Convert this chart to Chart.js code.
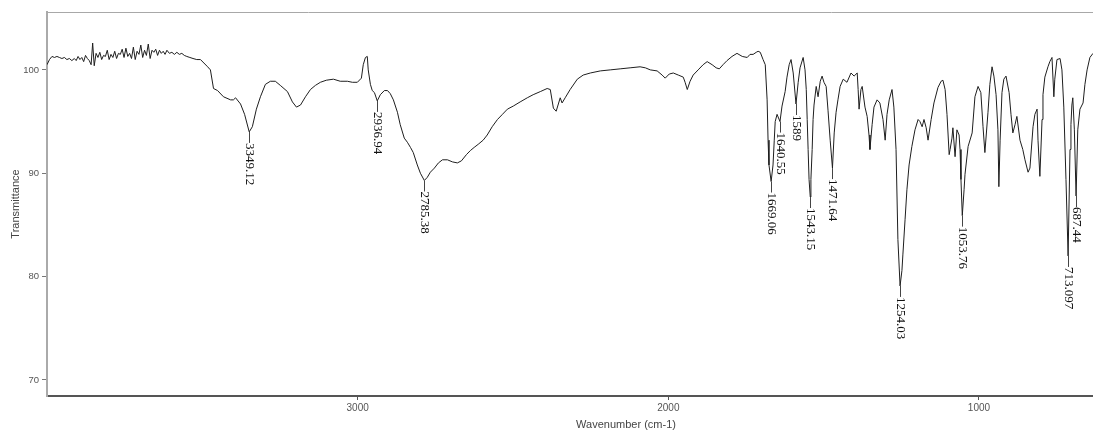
<!DOCTYPE html>
<html>
<head>
<meta charset="utf-8">
<title>FTIR spectrum</title>
<script src="https://cdn.jsdelivr.net/npm/chart.js@4.4.1/dist/chart.umd.min.js"></script>
<style>
  html, body { margin: 0; padding: 0; background: #fff; overflow: hidden; }
  canvas { display: block; }
</style>
</head>
<body>
<canvas id="spectrum" width="1093" height="432"></canvas>
<script>
// Wavenumber (cm-1), descending, and transmittance (%) of the IR spectrum
const wavenumbers = [
  4000, 3992, 3984, 3976, 3968, 3960, 3952, 3944, 3936, 3928, 3920, 3912, 3906, 3900, 3894, 3888,
  3882, 3876, 3870, 3864, 3858, 3853, 3848, 3842, 3836, 3830, 3824, 3818, 3812, 3806, 3800, 3794,
  3788, 3782, 3776, 3770, 3764, 3758, 3752, 3746, 3740, 3734, 3728, 3722, 3716, 3710, 3704, 3698,
  3692, 3686, 3680, 3674, 3668, 3662, 3656, 3650, 3644, 3638, 3632, 3626, 3620, 3614, 3606, 3598,
  3590, 3582, 3574, 3566, 3558, 3550, 3540, 3530, 3518,
  3506, 3483, 3474, 3464, 3451, 3432, 3409, 3400, 3393, 3377, 3364, 3349.12, 3339, 3326, 3313, 3297,
  3281, 3265, 3249, 3226, 3210, 3197, 3184, 3168, 3152, 3136, 3120, 3101, 3078, 3056, 3033, 3017,
  3001, 2988, 2982, 2975, 2969, 2966, 2959, 2953, 2946, 2936.94, 2927, 2914, 2904, 2895, 2885, 2872,
  2863, 2850, 2840, 2830, 2821, 2808, 2798, 2785.38, 2776, 2766, 2753, 2740, 2727, 2711, 2695, 2679,
  2666, 2650, 2637, 2625, 2612, 2596, 2583, 2567, 2550, 2534, 2518, 2499, 2477, 2454, 2435, 2412,
  2390, 2380, 2370, 2361, 2354, 2348, 2342, 2332, 2316, 2293, 2274, 2251, 2219, 2187, 2155, 2123,
  2091, 2074, 2058, 2036, 2020, 2010, 1997, 1984, 1968, 1952, 1946, 1939, 1930, 1920, 1904, 1888,
  1875, 1859, 1846, 1836, 1824, 1811, 1795, 1779, 1762, 1746, 1737, 1727, 1717, 1711, 1704, 1695,
  1688, 1682, 1679, 1676, 1669.06, 1663, 1659, 1656, 1650, 1640.55, 1634, 1624, 1618, 1611, 1605, 1598,
  1589, 1582, 1576, 1566, 1560, 1556, 1553, 1550, 1547, 1543.15, 1541, 1537, 1534, 1531, 1524, 1518,
  1511, 1505, 1499, 1492, 1486, 1479, 1471.64, 1466, 1460, 1454, 1447, 1437, 1425, 1412, 1402, 1392,
  1389, 1386, 1380, 1376, 1367, 1360, 1354, 1351, 1344, 1338, 1328, 1319, 1309, 1302, 1296, 1289,
  1280, 1274, 1267, 1261, 1254.03, 1248, 1245, 1238, 1232, 1225, 1216, 1206, 1196, 1190, 1183, 1177,
  1170, 1164, 1154, 1145, 1132, 1122, 1116, 1109, 1103, 1096, 1093, 1087, 1084, 1077, 1071, 1064,
  1061, 1058, 1053.76, 1048, 1045, 1035, 1022, 1013, 1003, 994, 987, 981, 971, 965, 958, 952,
  945, 939, 936, 932, 926, 920, 913, 903, 897, 891, 884, 878, 868, 859, 852, 842,
  836, 826, 820, 813, 810, 804, 797, 794, 788, 778, 772, 765, 759, 756, 749, 739,
  733, 727, 720, 713.097, 707, 704, 701, 698, 693, 687.44, 682, 675, 665, 659, 652, 643,
  633
];
const transmittance = [
  100.5, 101.0, 101.3, 101.2, 101.3, 101.2, 101.1, 101.2, 101.0, 101.1, 100.9, 101.1, 100.9, 101.3, 101.0, 101.2,
  100.8, 101.4, 101.1, 100.9, 100.5, 102.6, 100.4, 101.6, 101.2, 101.7, 101.0, 101.4, 101.3, 101.9, 101.0, 101.5,
  101.2, 101.8, 101.1, 101.6, 101.5, 102.0, 101.2, 102.1, 101.3, 101.6, 101.1, 102.2, 101.0, 101.8, 101.5, 102.4,
  101.2, 101.9, 101.4, 102.5, 101.1, 101.9, 101.7, 102.0, 101.4, 101.9, 101.6, 101.8, 101.5, 101.9, 101.6, 101.7,
  101.5, 101.7, 101.5, 101.6, 101.4, 101.3, 101.2, 101.1, 101.0,
  101.0, 100.3, 100.0, 98.2, 98.0, 97.4, 97.1, 97.1, 97.3, 96.7, 95.7, 94.0, 94.5, 96.2, 97.4, 98.6,
  98.9, 98.9, 98.5, 97.9, 96.9, 96.4, 96.6, 97.4, 98.1, 98.5, 98.8, 99.0, 99.1, 98.9, 98.9, 98.8,
  98.8, 99.2, 100.5, 101.2, 101.3, 100.0, 98.6, 98.0, 97.8, 97.0, 97.6, 98.0, 98.0, 97.7, 97.1, 95.9,
  94.7, 93.4, 93.0, 92.5, 92.0, 90.8, 90.0, 89.3, 89.6, 90.1, 90.5, 91.0, 91.3, 91.3, 91.1, 91.0,
  91.2, 91.8, 92.2, 92.5, 92.8, 93.2, 93.7, 94.5, 95.2, 95.7, 96.2, 96.5, 96.9, 97.3, 97.6, 97.9,
  98.2, 98.1, 96.3, 96.0, 96.7, 97.3, 96.8, 97.3, 98.1, 99.1, 99.5, 99.7, 99.9, 100.0, 100.1, 100.2,
  100.3, 100.2, 100.0, 99.9, 99.5, 99.2, 99.6, 99.7, 99.5, 99.3, 98.8, 98.1, 98.9, 99.5, 100.0, 100.5,
  100.8, 100.5, 100.2, 100.1, 100.5, 100.9, 101.3, 101.6, 101.3, 101.2, 101.5, 101.5, 101.7, 101.8, 101.7, 101.0,
  100.5, 97.1, 93.2, 90.8, 89.2, 90.8, 93.2, 95.0, 95.7, 95.0, 96.5, 97.9, 99.3, 100.5, 101.0, 99.7,
  96.7, 98.8, 100.2, 101.2, 100.0, 98.1, 95.2, 92.3, 89.4, 87.7, 89.4, 92.3, 95.2, 96.6, 98.4, 97.4,
  98.9, 99.4, 98.8, 98.4, 96.1, 93.2, 90.5, 93.9, 95.9, 97.1, 98.4, 99.1, 98.8, 99.7, 99.4, 99.7,
  98.1, 96.2, 98.1, 98.4, 96.4, 95.5, 93.7, 92.3, 94.7, 96.4, 97.1, 96.8, 95.2, 93.2, 95.7, 97.1,
  98.1, 96.4, 92.3, 83.6, 79.1, 80.6, 82.1, 85.5, 88.4, 90.8, 92.6, 94.2, 95.2, 95.0, 94.5, 95.2,
  94.4, 93.2, 95.2, 96.8, 98.3, 98.9, 99.0, 98.1, 95.7, 91.8, 92.3, 93.4, 94.4, 91.6, 94.2, 93.7,
  92.3, 89.4, 85.9, 88.4, 89.9, 92.6, 93.9, 97.4, 98.4, 97.8, 94.5, 92.0, 95.9, 98.6, 100.3, 99.4,
  97.6, 94.2, 88.7, 93.2, 97.8, 99.1, 99.4, 97.8, 95.7, 93.9, 94.7, 95.5, 93.2, 92.3, 91.3, 90.1,
  90.5, 94.5, 95.7, 96.2, 93.2, 89.7, 95.2, 97.6, 99.3, 100.3, 100.8, 101.2, 97.4, 99.1, 101.0, 101.1,
  100.0, 96.4, 89.4, 82.0, 92.3, 94.7, 96.6, 97.3, 94.2, 87.8, 94.2, 96.2, 96.8, 98.6, 100.0, 101.2,
  101.6
];

// Band positions marked on the spectrum (cm-1)
const peakWavenumbers = [3349.12, 2936.94, 2785.38, 1669.06, 1640.55, 1589, 1543.15, 1471.64, 1254.03, 1053.76, 713.097, 687.44];

// Axis tick values
const xTickValues = [3000, 2000, 1000];
const yTickValues = [70, 80, 90, 100];

const xTitle = 'Wavenumber (cm-1)';
const yTitle = 'Transmittance';

const points = wavenumbers.map((w, i) => ({ x: w, y: transmittance[i] }));

// Panel frame, band annotations and axis titles
const annotations = {
  id: 'annotations',
  afterDraw(chart) {
    const { ctx, chartArea: a, scales: { x, y } } = chart;
    ctx.save();

    ctx.strokeStyle = '#a8a8a8';
    ctx.lineWidth = 1;
    ctx.beginPath();
    ctx.moveTo(a.left, a.top + 0.5);
    ctx.lineTo(a.right, a.top + 0.5);
    ctx.stroke();

    const gap = 11;
    ctx.font = '13px "Liberation Serif", "Times New Roman", serif';
    ctx.fillStyle = '#111';
    peakWavenumbers.forEach(w => {
      const i = wavenumbers.indexOf(w);
      const px = Math.round(x.getPixelForValue(w)) + 0.5;
      const py = y.getPixelForValue(transmittance[i]);
      ctx.strokeStyle = '#444';
      ctx.lineWidth = 1;
      ctx.beginPath();
      ctx.moveTo(px, py);
      ctx.lineTo(px, py + gap);
      ctx.stroke();
      ctx.save();
      ctx.translate(px, py + gap);
      ctx.rotate(Math.PI / 2);
      ctx.textAlign = 'left';
      ctx.textBaseline = 'middle';
      ctx.fillText(String(w), 0, 0);
      ctx.restore();
    });

    ctx.font = '11px "Liberation Sans", Arial, sans-serif';
    ctx.fillStyle = '#444';
    ctx.textAlign = 'center';
    ctx.textBaseline = 'middle';
    ctx.fillText(xTitle, 626, 425);
    ctx.save();
    ctx.translate(16, (a.top + a.bottom) / 2);
    ctx.rotate(-Math.PI / 2);
    ctx.fillText(yTitle, 0, 0);
    ctx.restore();

    ctx.restore();
  }
};

new Chart(document.getElementById('spectrum'), {
  type: 'line',
  data: {
    datasets: [{
      data: points,
      borderColor: '#1e1e1e',
      borderWidth: 1,
      pointRadius: 0,
      tension: 0,
      fill: false
    }]
  },
  options: {
    responsive: false,
    devicePixelRatio: 1,
    animation: false,
    layout: { padding: { top: 12, left: 0, right: 0, bottom: 0 } },
    plugins: { legend: { display: false }, tooltip: { enabled: false } },
    scales: {
      x: {
        type: 'linear',
        reverse: true,
        min: 633,
        max: 4000,
        afterBuildTicks: s => { s.ticks = xTickValues.map(v => ({ value: v })); },
        afterFit: s => { s.height = 36; },
        grid: { display: true, drawOnChartArea: false, drawTicks: true, tickLength: 4, color: '#555' },
        border: { display: true, color: '#555', width: 2 },
        ticks: {
          autoSkip: false, maxRotation: 0, padding: 2, color: '#555',
          font: { family: '"Liberation Sans", Arial, sans-serif', size: 10 },
          callback: v => String(v)
        }
      },
      y: {
        type: 'linear',
        min: 68.45,
        max: 105.6,
        afterBuildTicks: s => { s.ticks = yTickValues.map(v => ({ value: v })); },
        afterFit: s => { s.width = 47; },
        grid: { display: true, drawOnChartArea: false, drawTicks: true, tickLength: 5, color: '#777' },
        border: { display: true, color: '#aaa', width: 2 },
        ticks: {
          padding: 3, color: '#555',
          font: { family: '"Liberation Sans", Arial, sans-serif', size: 9.5 },
          callback: v => String(v)
        }
      }
    }
  },
  plugins: [annotations]
});
</script>
</body>
</html>
